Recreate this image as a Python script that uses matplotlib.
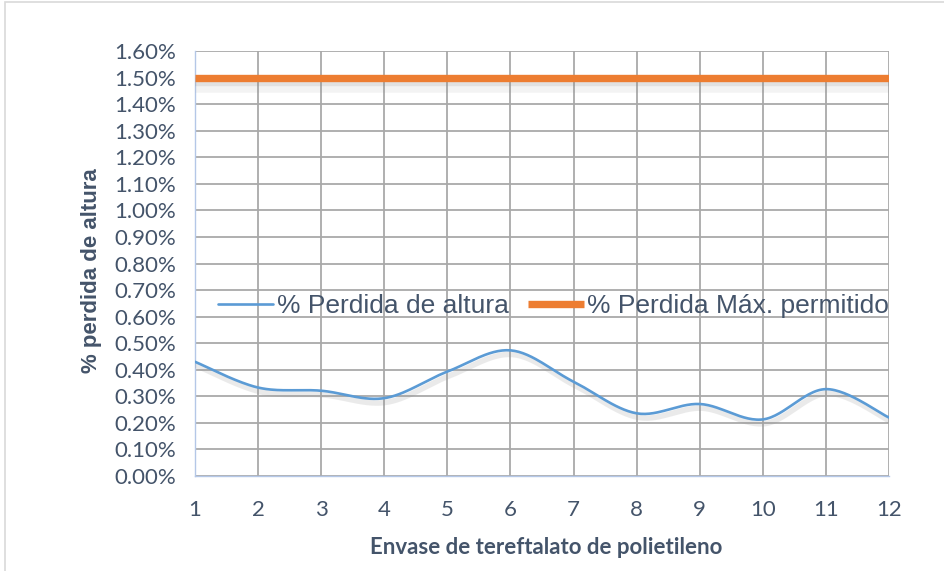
import numpy as np
import matplotlib
matplotlib.use("Agg")
import matplotlib.pyplot as plt
import matplotlib.patheffects as pe
from matplotlib.patches import Rectangle

# ---- data ----
envases = [1, 2, 3, 4, 5, 6, 7, 8, 9, 10, 11, 12]
perdida_altura = [0.43, 0.333, 0.321, 0.293, 0.393, 0.473, 0.355, 0.236, 0.271, 0.213, 0.327, 0.220]
perdida_max = [1.50] * 12
y_ticks = [0.0, 0.1, 0.2, 0.3, 0.4, 0.5, 0.6, 0.7, 0.8, 0.9, 1.0, 1.1, 1.2, 1.3, 1.4, 1.5, 1.6]
serie1_name = "% Perdida de altura"
serie2_name = "% Perdida Máx. permitido"
xlabel = "Envase de tereftalato de polietileno"
ylabel = "% perdida de altura"

TXT = "#44546A"
BLUE = "#5B9BD5"
ORANGE = "#ED7D31"
GRID = "#A9A9A9"


def smooth(x, y, n=30):
    """Catmull-Rom rendering of a smoothed line (like Excel's smoothed line)."""
    x = np.asarray(x, float); y = np.asarray(y, float)
    px = np.concatenate([[x[0]], x, [x[-1]]])
    py = np.concatenate([[y[0]], y, [y[-1]]])
    xs, ys = [], []
    t = np.linspace(0, 1, n, endpoint=False)
    for i in range(1, len(px) - 2):
        p0, p1, p2, p3 = (np.array([px[j], py[j]]) for j in (i - 1, i, i + 1, i + 2))
        c1 = p1 + (p2 - p0) / 6.0
        c2 = p2 - (p3 - p1) / 6.0
        b = ((1 - t) ** 3)[:, None] * p1 + (3 * (1 - t) ** 2 * t)[:, None] * c1 \
            + (3 * (1 - t) * t ** 2)[:, None] * c2 + (t ** 3)[:, None] * p2
        xs.extend(b[:, 0]); ys.extend(b[:, 1])
    xs.append(x[-1]); ys.append(y[-1])
    return np.array(xs), np.array(ys)


fig = plt.figure(figsize=(9.45, 5.71), dpi=100)
W, H = 945, 571
left, right, top, bottom = 195, 889, 51, 476
ax = fig.add_axes([left / W, (H - bottom) / H, (right - left) / W, (bottom - top) / H])

# chart outer border
fig.add_artist(Rectangle((5 / W, -0.1), 1.2, (H - 2) / H + 0.1, transform=fig.transFigure,
                         fill=False, edgecolor="#D9D9D9", linewidth=1.2))

sx, sy = smooth(envases, perdida_altura)
shadow1 = [pe.SimpleLineShadow(offset=(1.5, -3), shadow_color="#909090", alpha=0.18, linewidth=4),
           pe.Normal()]
ax.plot(sx, sy, color=BLUE, linewidth=1.9, label=serie1_name, zorder=4,
        path_effects=shadow1, solid_capstyle="round")
shadow2 = [pe.SimpleLineShadow(offset=(0, -6), shadow_color="#909090", alpha=0.10, linewidth=9),
           pe.SimpleLineShadow(offset=(0, -3), shadow_color="#909090", alpha=0.18, linewidth=6),
           pe.Normal()]
ax.plot(envases, perdida_max, color=ORANGE, linewidth=5.3, label=serie2_name, zorder=5,
        path_effects=shadow2, solid_capstyle="butt")

ax.set_xlim(1, 12)
ax.set_ylim(0, 1.6)
ax.set_xticks(envases)
ax.set_yticks(y_ticks)
ax.set_yticklabels([f"{v:.2f}%" for v in y_ticks])
ax.grid(True, color=GRID, linewidth=1.3)
ax.set_axisbelow(True)
for s in ("top", "right"):
    ax.spines[s].set_visible(False)
for s in ("left", "bottom"):
    ax.spines[s].set_color("#B4C7E7")
    ax.spines[s].set_linewidth(1.0)
ax.tick_params(axis="both", length=0, labelcolor=TXT)
ax.tick_params(axis="y", pad=13.5)
ax.tick_params(axis="x", pad=17)
for lab in ax.get_xticklabels() + ax.get_yticklabels():
    lab.set_fontfamily("Lato")
    lab.set_fontsize(16)

fig.text(546 / W, (H - 547) / H, xlabel, fontfamily="Lato", fontweight="bold", fontsize=16,
         color=TXT, ha="center", va="center")
fig.text(92 / W, (H - 271) / H, ylabel, fontfamily="Liberation Sans", fontweight="bold", fontsize=16,
         color=TXT, ha="center", va="center", rotation=90)

leg = ax.legend(loc="center left", bbox_to_anchor=(218 / W, (H - 306) / H),
                bbox_transform=fig.transFigure, ncol=2, frameon=False,
                prop={"family": "Liberation Sans", "size": 19},
                handlelength=2.1, handletextpad=0.12, columnspacing=0.75, borderpad=0, borderaxespad=0)
for t in leg.get_texts():
    t.set_color(TXT)
for h in leg.legend_handles:
    h.set_path_effects([])

fig.savefig("out.png", dpi=100)
